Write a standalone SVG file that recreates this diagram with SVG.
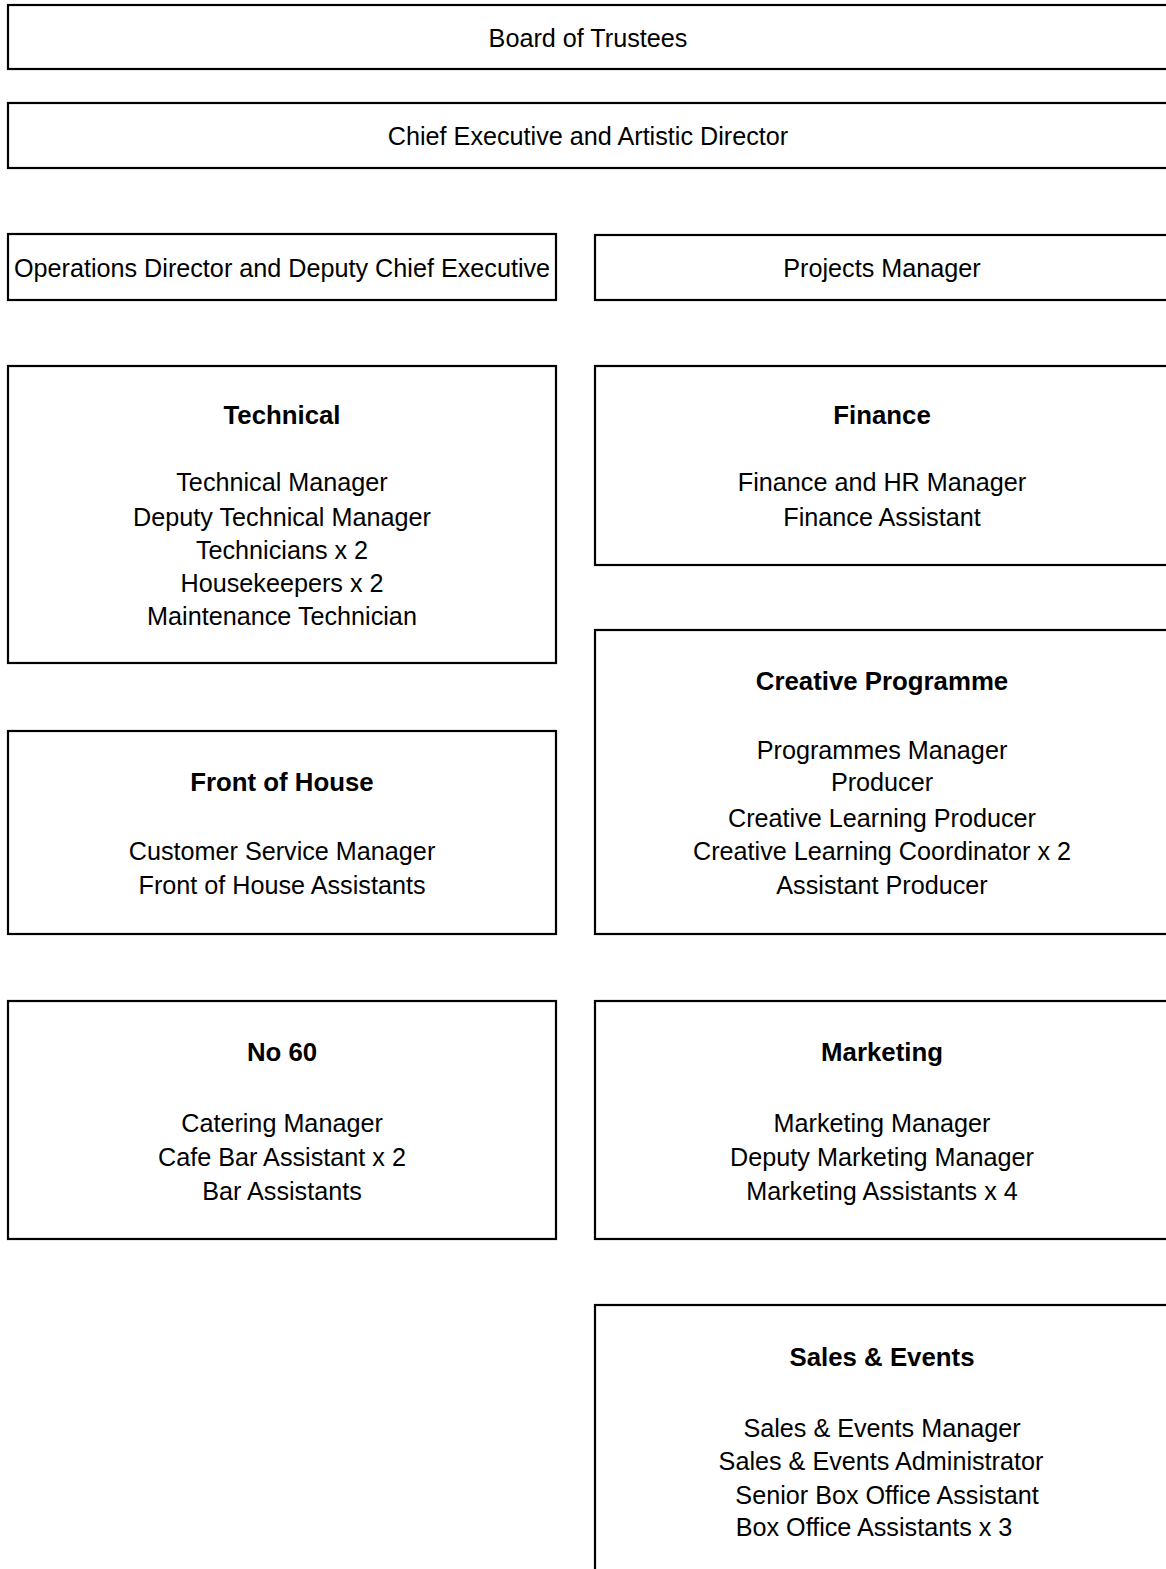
<svg xmlns="http://www.w3.org/2000/svg" width="1166" height="1569" viewBox="0 0 1166 1569">
  <style>
    .box { fill: #ffffff; stroke: #000000; stroke-width: 2.2; }
    text { font-family: "Liberation Sans", Arial, sans-serif; font-size: 25.2px; fill: #000000; text-anchor: middle; }
    .head { font-weight: bold; font-size: 25.8px; }
  </style>
  <rect width="1166" height="1569" fill="#ffffff"/>

  <g id="connectors"></g>

  <g id="board">
    <rect class="box" x="8" y="5" width="1170" height="64"/>
    <text x="588" y="47">Board of Trustees</text>
  </g>

  <g id="chief-executive">
    <rect class="box" x="8" y="103" width="1170" height="65"/>
    <text x="588" y="145">Chief Executive and Artistic Director</text>
  </g>

  <g id="operations-director">
    <rect class="box" x="8" y="234" width="548" height="66"/>
    <text x="282" y="277">Operations Director and Deputy Chief Executive</text>
  </g>

  <g id="projects-manager">
    <rect class="box" x="595" y="235" width="590" height="65"/>
    <text x="882" y="277">Projects Manager</text>
  </g>

  <g id="technical">
    <rect class="box" x="8" y="366" width="548" height="297"/>
    <text class="head" x="282" y="424">Technical</text>
    <text x="282" y="491">Technical Manager</text>
    <text x="282" y="526">Deputy Technical Manager</text>
    <text x="282" y="559">Technicians x 2</text>
    <text x="282" y="592">Housekeepers x 2</text>
    <text x="282" y="625">Maintenance Technician</text>
  </g>

  <g id="finance">
    <rect class="box" x="595" y="366" width="590" height="199"/>
    <text class="head" x="882" y="424">Finance</text>
    <text x="882" y="491">Finance and HR Manager</text>
    <text x="882" y="526">Finance Assistant</text>
  </g>

  <g id="creative-programme">
    <rect class="box" x="595" y="630" width="590" height="304"/>
    <text class="head" x="882" y="690">Creative Programme</text>
    <text x="882" y="759">Programmes Manager</text>
    <text x="882" y="791">Producer</text>
    <text x="882" y="827">Creative Learning Producer</text>
    <text x="882" y="860">Creative Learning Coordinator x 2</text>
    <text x="882" y="894">Assistant Producer</text>
  </g>

  <g id="front-of-house">
    <rect class="box" x="8" y="731" width="548" height="203"/>
    <text class="head" x="282" y="791">Front of House</text>
    <text x="282" y="860">Customer Service Manager</text>
    <text x="282" y="894">Front of House Assistants</text>
  </g>

  <g id="no-60">
    <rect class="box" x="8" y="1001" width="548" height="238"/>
    <text class="head" x="282" y="1061">No 60</text>
    <text x="282" y="1132">Catering Manager</text>
    <text x="282" y="1166">Cafe Bar Assistant x 2</text>
    <text x="282" y="1200">Bar Assistants</text>
  </g>

  <g id="marketing">
    <rect class="box" x="595" y="1001" width="590" height="238"/>
    <text class="head" x="882" y="1061">Marketing</text>
    <text x="882" y="1132">Marketing Manager</text>
    <text x="882" y="1166">Deputy Marketing Manager</text>
    <text x="882" y="1200">Marketing Assistants x 4</text>
  </g>

  <g id="sales-events">
    <rect class="box" x="595" y="1305" width="590" height="300"/>
    <text class="head" x="882" y="1366">Sales &amp; Events</text>
    <text x="882" y="1437">Sales &amp; Events Manager</text>
    <text x="881" y="1470">Sales &amp; Events Administrator</text>
    <text x="887" y="1504">Senior Box Office Assistant</text>
    <text x="874" y="1536">Box Office Assistants x 3</text>
  </g>
</svg>
